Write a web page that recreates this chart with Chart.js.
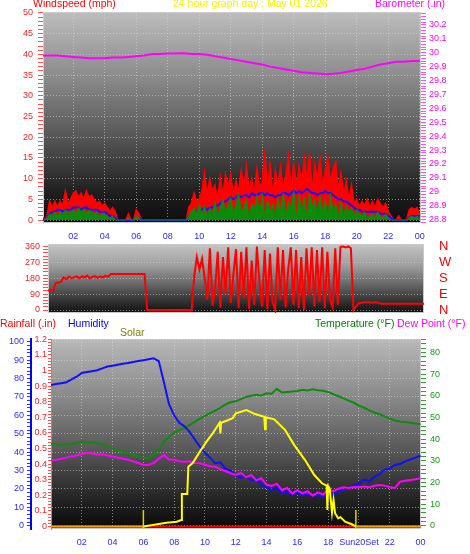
<!DOCTYPE html>
<html>
<head>
<meta charset="utf-8">
<script src="https://cdn.jsdelivr.net/npm/chart.js@4.4.1/dist/chart.umd.min.js"></script>
<style>
  body { margin: 0; width: 470px; height: 554px; background: #fff; position: relative; overflow: hidden;
         font-family: Arial, "Liberation Sans", sans-serif; }
  canvas { position: absolute; left: 0; }
  .t { position: absolute; font-size: 10.5px; line-height: 13px; white-space: nowrap; }
</style>
</head>
<body>
<canvas id="wind" width="470" height="250" style="top:0"></canvas>
<canvas id="dir" width="470" height="82" style="top:238px"></canvas>
<canvas id="climate" width="470" height="234" style="top:320px"></canvas>

<div class="t" style="left:33px;top:-3px;color:#ff0000">Windspeed (mph)</div>
<div class="t" style="left:173px;top:-3px;color:#f4f400">24 hour graph day : May 01 2026</div>
<div class="t" style="left:375px;top:-3px;color:#ff00ff">Barometer (.in)</div>
<div class="t" style="left:0;top:317px;color:#ff0000">Rainfall (.in)</div>
<div class="t" style="left:68px;top:317px;color:#0000ff">Humidity</div>
<div class="t" style="left:120px;top:326px;color:#808000">Solar</div>
<div class="t" style="left:315px;top:317px;color:#008000">Temperature (°F)</div>
<div class="t" style="left:397px;top:317px;color:#ff00ff">Dew Point (°F)</div>

<script>
// ---- data: wind panel, one value every 10 minutes (00:00 .. 24:00) ----
const windGust = [
  1, 0, 1, 4.5, 3, 4.5,        3, 4.5, 3.5, 7, 4, 5,
  6.5, 7, 5.5, 6.5, 5, 7,      5.5, 6, 5, 4, 4.5, 3.5,
  4, 3, 2, 3, 2, 0,            0, 0, 0, 1.5, 0, 0,
  2.5, 1.5, 0, 0, 0, 0,        0, 0, 0, 0, 0, 0,
  0, 0, 0, 0, 0, 0,            0, 0, 3, 4, 6.5, 4.5,
  5, 7, 11.5, 6, 10, 7,        8.5, 5, 10.5, 6, 11, 8,
  11, 6, 9.5, 7, 12, 8,        13, 7, 10, 6.5, 12.5, 8,
  9, 17, 7, 14, 6, 12,         8, 13, 7, 11, 15.5, 7,
  14, 8, 13, 9, 15, 10,        16, 7, 13.5, 10, 15, 8,
  12, 15, 9, 12.5, 14, 7,      11.5, 6, 9.5, 5, 8.5, 4,
  5, 3, 4.5, 3.5, 5, 3,        4.5, 3, 5, 4, 3, 4,
  2, 1, 0, 0, 1, 0,            0, 0, 2.5, 3, 2.5, 3,
  1
];
const windSpeed = [
  0, 0, 0.5, 1.5, 1, 2,        1, 2, 1.5, 2.5, 1.5, 2,
  2.5, 1.5, 3, 2, 2.5, 1.5,    2.5, 2, 1.5, 2, 1, 1.5,
  1.5, 1, 0.5, 1, 0, 0,        0, 0, 0, 0.5, 0, 0,
  1, 0.5, 0, 0, 0, 0,          0, 0, 0, 0, 0, 0,
  0, 0, 0, 0, 0, 0,            0, 0, 1, 2, 3, 1.5,
  4, 1, 3.5, 0.5, 3, 1.5,      4.5, 1, 3, 5, 2, 3.5,
  5.5, 1, 4, 6.5, 2, 3,        5, 0.5, 4, 2.5, 6, 1,
  6.5, 0.5, 5, 2, 4, 0.5,      5.5, 2, 6.5, 1, 4.5, 3,
  7, 0.5, 6, 2, 5.5, 1,        6.5, 3, 5, 1.5, 6, 2,
  5, 0.5, 6.5, 2, 4, 1,        4.5, 1, 3.5, 2, 3, 1,
  2.5, 1.5, 1, 2, 0.5, 1,      1.5, 0.5, 2, 1, 0.5, 1.5,
  0.5, 0, 0, 0, 0, 0,          0, 0, 0.5, 1, 0.5, 1,
  0
];
const windAverage = [
  0, 0, 0.5, 1.5, 2, 2,        2.5, 2.5, 2, 2.5, 2.5, 2.5,
  3, 3, 3, 2.5, 3, 3,          2.5, 2.5, 2.5, 2.5, 2, 2,
  2, 1.5, 1, 1, 0.5, 0,        0, 0, 0, 0, 0, 0,
  0.5, 0.5, 0, 0, 0, 0,        0, 0, 0, 0, 0, 0,
  0, 0, 0, 0, 0, 0,            0, 0, 1, 1.5, 2, 2,
  2.5, 2.5, 3, 2.5, 3, 3,      3.5, 3.5, 4, 4.5, 4.5, 5,
  5.5, 5, 5.5, 6, 5.5, 6,      6, 5.5, 6.5, 6, 6, 6.5,
  6.5, 6, 6.5, 6, 6, 5.5,      6, 6, 6.5, 6.5, 6, 6.5,
  7, 6.5, 7, 6.5, 7, 7.5,      7, 6.5, 6.5, 6, 6.5, 6.5,
  7, 6.5, 6.5, 6, 5.5, 5,      5, 4.5, 4.5, 4, 3.5, 3,
  2.5, 2.5, 2, 2, 2, 2,        2, 2, 2, 1.5, 1.5, 1.5,
  1, 0.5, 0, 0, 0, 0,          0, 0, 0.5, 1, 1, 1,
  1
];
// barometer, every 30 minutes
const barometer = [
  29.98, 29.98, 29.98, 29.975, 29.97, 29.965, 29.96, 29.96, 29.96, 29.965,
  29.965, 29.97, 29.975, 29.98, 29.99, 29.99, 29.995, 29.995, 29.997, 29.99,
  29.99, 29.985, 29.975, 29.965, 29.955, 29.945, 29.935, 29.925, 29.915, 29.9,
  29.89, 29.88, 29.87, 29.86, 29.855, 29.85, 29.845, 29.848, 29.855, 29.865,
  29.875, 29.885, 29.9, 29.915, 29.925, 29.935, 29.935, 29.94, 29.94
];
// wind direction, every 10 minutes
const windDirection = [
  110, 110, 110, 155, 155, 160,   185, 175, 190, 180, 185, 190,
  180, 190, 185, 195, 180, 188,   192, 182, 190, 185, 195, 188,
  204, 204, 204, 204, 204, 204,   204, 204, 204, 204, 204, 204,
  204, 204, 0, 0, 0, 0,           0, 0, 0, 0, 0, 0,
  0, 0, 0, 0, 0, 0,               0, 0, 190, 300, 230, 290,
  180, 60, 350, 25, 120, 330,     15, 300, 90, 355, 40, 200,
  345, 10, 330, 70, 355, 5,       280, 30, 360, 150, 20, 340,
  5, 320, 45, 0, 355, 60,         340, 15, 230, 355, 30, 340,
  10, 300, 0, 350, 80, 355,       20, 340, 45, 355, 10, 330,
  60, 15, 350, 30, 358, 360,      355, 360, 350, 0, 20, 40,
  40, 45, 42, 45, 40, 45,         42, 38, 35, 35, 35, 35,
  35, 35, 35, 35, 35, 35,         35, 35, 35, 35, 35, 35,
  35
];

// ---- data: climate panel, one value every 20 minutes ----
const humidity = [
  76.5, 77, 77.5,  78, 79.5, 81,  83, 83.5, 84,  84.5, 85.5, 86.5,
  87, 87.5, 88,  88.5, 89, 89.5,  90, 90.5, 91,  89.5, 78, 66,
  60, 56, 54,  51, 47, 43,  39.5, 37, 34,  34.5, 31, 30,
  27.5, 26, 27,  24.5, 25.5, 22,  21, 19.5, 20.5,  18, 18.5, 17,
  18, 16.5, 17.5,  16, 17, 15.5,  16, 17, 18.5,  19.5, 20.5, 21.5,
  23, 25, 24,  26.5, 28, 30.5,  31, 33, 33.5,  35, 36, 37,
  38
];
const temperature = [
  37.8, 37.5, 37.2,  37.5, 37.8, 38.2,  38.9, 38.5, 38.6,  38.2, 37.8, 36.8,
  35.8, 35, 34.2,  33.5, 32.8, 32,  31.4, 31.2, 33,  35.5, 38.8, 41,
  43, 44.2, 45.2,  46.5, 48, 49.5,  50.8, 52, 53.2,  54.5, 56, 57,
  57.5, 58.5, 59.5,  60, 60.5, 60.2,  61.2, 61, 63.2,  61.5, 61.8, 62,
  62.2, 62.8, 62.5,  63, 62.6, 62.3,  61.8, 60.8, 59.8,  58.8, 57.8, 56.8,
  55.5, 54.5, 53.3,  52.3, 51.5, 50.5,  49.5, 48.6, 48.2,  47.9, 47.6, 47.2,
  46.9
];
const dewPoint = [
  30.4, 30.5, 31,  31.5, 32, 32.5,  33.2, 33.8, 33.5,  33, 33, 32.5,
  32, 31.5, 31,  30.5, 29.8, 29,  28.1, 28.2, 29,  31, 32.7, 30.6,
  30.5, 29.8, 29.6,  29.8, 29, 28.9,  28.2, 27.5, 27.3,  26.2, 25.2, 24.3,
  23.5, 24.5, 22.5,  23.5, 21, 22,  19, 18.5, 19.5,  16.5, 17.5, 15,
  16.5, 15, 16,  14, 15.5, 14.5,  16.6, 16, 17.2,  17.8, 17.5, 18,
  17.8, 18.2, 17.9,  18.5, 18.9, 18.6,  18, 17.4, 20.4,  20.8, 21.2, 21.5,
  22
];
// rainfall, hourly
const rainfall = [0, 0, 0, 0, 0, 0, 0, 0, 0, 0, 0, 0, 0, 0, 0, 0, 0, 0, 0, 0, 0, 0, 0, 0, 0];
// solar radiation (W/m2), read at irregular times (hours)
const solarTimes = [0, 6.0, 6.5, 7.0, 7.5, 8.16, 8.45, 8.5, 8.85, 8.92, 9.2, 9.67, 10.1, 10.5, 10.95, 11.0, 11.05,
  11.4, 11.8, 12.0, 12.7, 13.25, 13.85, 13.9, 13.95, 14.5, 15.2, 15.8, 16.5, 17.1, 17.6, 17.9, 17.95, 18.0,
  18.1, 18.25, 18.35, 18.45, 18.65, 18.8, 19.1, 19.5, 19.8, 24];
const solarValues = [0, 0, 8, 16, 24, 31, 42, 208, 208, 383, 407, 480, 544, 597, 665, 597, 665,
  678, 694, 725, 747, 721, 704, 623, 700, 687, 619, 522, 426, 330, 277, 262, 106, 260,
  245, 90, 170, 85, 53, 60, 31, 16, 0, 0];
const sunrise = 6.0;
const sunset = 19.8;

// ---- axis ticks ----
const timeTicks = [2, 4, 6, 8, 10, 12, 14, 16, 18, 20, 22, 24];
const timeLabels = ['02', '04', '06', '08', '10', '12', '14', '16', '18', '20', '22', '00'];
const climateTimeLabels = ['02', '04', '06', '08', '10', '12', '14', '16', '18', 'Sun20Set', '22', '00'];
const windLabels = [0, 5, 10, 15, 20, 25, 30, 35, 40, 45, 50];
const baroLabels = [28.8, 28.9, 29, 29.1, 29.2, 29.3, 29.4, 29.5, 29.6, 29.7, 29.8, 29.9, 30, 30.1, 30.2];
const dirLabels = [0, 90, 180, 270, 360];
const compassLabels = ['N', 'E', 'S', 'W', 'N'];
const humidityLabels = [0, 10, 20, 30, 40, 50, 60, 70, 80, 90, 100];
const rainLabels = [0, 0.1, 0.2, 0.3, 0.4, 0.5, 0.6, 0.7, 0.8, 0.9, 1, 1.1, 1.2];
const tempLabels = [0, 10, 20, 30, 40, 50, 60, 70, 80];

function steps(from, to, step) {
  const n = Math.round((to - from) / step);
  return Array.from({ length: n + 1 }, (_, i) => +(from + i * step).toFixed(4));
}
const has = (list, v) => list.some(x => Math.abs(x - v) < 1e-6);
const toPoints = (values, stepHours) => values.map((v, i) => ({ x: i * stepHours, y: v }));

const axisFont = { family: 'Arial, "Liberation Sans", sans-serif', size: 9 };
const gridColor = 'rgba(220, 220, 220, 0.55)';
const clear = 'rgba(0, 0, 0, 0)';

// fixed axis sizes, and no extra room for labels that overhang the plot
const fixedWidth = w => s => { s.width = w; s.paddingTop = 0; s.paddingBottom = 0; };
const fixedHeight = h => s => { s.height = h; s.paddingLeft = 0; s.paddingRight = 0; };
const setTicks = values => s => { s.ticks = values.map(v => ({ value: v })); };

// gradient plot background
const plotBackground = {
  id: 'plotBackground',
  beforeDraw(chart, args, opts) {
    const { ctx, chartArea: a } = chart;
    const g = ctx.createLinearGradient(0, a.top, 0, a.bottom);
    opts.stops.forEach(([p, c]) => g.addColorStop(p, c));
    ctx.save();
    ctx.fillStyle = g;
    ctx.fillRect(a.left, a.top, a.right - a.left, a.bottom - a.top);
    ctx.strokeStyle = '#c8c8c8';
    ctx.lineWidth = 1;
    ctx.strokeRect(a.left + 0.5, a.top + 0.5, a.right - a.left - 1, a.bottom - a.top - 1);
    ctx.restore();
  }
};

const baseOptions = {
  responsive: false,
  animation: false,
  events: [],
  elements: { point: { radius: 0 }, line: { tension: 0 } },
};

function timeAxis(min, max, labels, height) {
  return {
    type: 'linear', min, max,
    afterBuildTicks: setTicks(timeTicks),
    afterFit: fixedHeight(height),
    ticks: {
      color: '#2a2aff', font: axisFont, padding: 8, autoSkip: false, maxRotation: 0,
      callback: v => labels[timeTicks.indexOf(v)] ?? ''
    },
    grid: { color: gridColor, drawTicks: false },
    border: { display: false, dash: [1, 2] }
  };
}

// ---- wind + barometer ----
new Chart(document.getElementById('wind'), {
  type: 'line',
  data: {
    datasets: [
      { label: 'Wind speed', data: toPoints(windSpeed, 1 / 6), borderColor: '#0c8a0c',
        backgroundColor: '#0c8a0c', borderWidth: 1, fill: 'origin', yAxisID: 'y' },
      { label: 'Average wind', data: toPoints(windAverage, 1 / 6), borderColor: '#1414ff',
        borderWidth: 2, yAxisID: 'y' },
      { label: 'Gust', data: toPoints(windGust, 1 / 6), borderColor: '#ff0000',
        backgroundColor: '#ff0000', borderWidth: 1.5, fill: 'origin', yAxisID: 'y' },
      { label: 'Barometer', data: toPoints(barometer, 0.5), borderColor: '#ff00ff',
        borderWidth: 2, yAxisID: 'baro' }
    ]
  },
  options: {
    ...baseOptions,
    layout: { padding: { top: 12 } },
    plugins: {
      legend: { display: false }, tooltip: { enabled: false },
      plotBackground: { stops: [[0, '#bdbdbd'], [0.3, '#8c8c8c'], [0.6, '#555555'], [0.85, '#202020'], [1, '#0c0c0c']] }
    },
    scales: {
      x: timeAxis(0.08, 24.08, timeLabels, 27),
      y: {
        position: 'left', min: -0.72, max: 50.24,
        afterBuildTicks: setTicks(steps(0, 50, 1)),
        afterFit: fixedWidth(43),
        ticks: { color: '#ff2020', font: axisFont, padding: 5, autoSkip: false,
                 callback: v => has(windLabels, v) ? String(v) : '' },
        grid: { color: c => (c.tick && has(windLabels, c.tick.value)) ? gridColor : clear,
                tickColor: '#ff5050', tickLength: 5 },
        border: { color: '#d8c8c8', dash: [1, 2] }
      },
      baro: {
        position: 'right', min: 28.775, max: 30.293,
        afterBuildTicks: setTicks(steps(28.78, 30.28, 0.02)),
        afterFit: fixedWidth(49),
        ticks: { color: '#ff00ff', font: axisFont, padding: 3, autoSkip: false,
                 callback: v => has(baroLabels, v) ? String(Math.round(v * 10) / 10) : '' },
        grid: { drawOnChartArea: false, tickColor: '#ff50ff', tickLength: 5 },
        border: { display: false }
      }
    }
  },
  plugins: [plotBackground]
});

// ---- wind direction ----
new Chart(document.getElementById('dir'), {
  type: 'line',
  data: {
    datasets: [
      { label: 'Direction', data: toPoints(windDirection, 1 / 6), borderColor: '#ff0000',
        borderWidth: 2, yAxisID: 'y' }
    ]
  },
  options: {
    ...baseOptions,
    layout: { padding: { top: 6, bottom: 7 } },
    plugins: {
      legend: { display: false }, tooltip: { enabled: false },
      plotBackground: { stops: [[0, '#c4c4c4'], [0.3, '#a0a0a0'], [0.55, '#6e6e6e'], [0.8, '#383838'], [1, '#101010']] }
    },
    scales: {
      x: { type: 'linear', min: 0, max: 24, display: false },
      y: {
        position: 'left', min: -17, max: 374,
        afterBuildTicks: setTicks(steps(0, 360, 18)),
        afterFit: fixedWidth(48),
        ticks: { color: '#ff2020', font: axisFont, padding: 3, autoSkip: false,
                 callback: v => has(dirLabels, v) ? String(v) : '' },
        grid: { color: c => (c.tick && has(dirLabels, c.tick.value)) ? gridColor : clear,
                tickColor: '#ff5050', tickLength: 5 },
        border: { display: false, dash: [1, 2] }
      },
      compass: {
        position: 'right', min: -17, max: 374,
        afterBuildTicks: setTicks(dirLabels),
        afterFit: fixedWidth(46),
        ticks: { color: '#ff0000', font: { family: axisFont.family, size: 13 }, padding: 15, autoSkip: false,
                 callback: v => compassLabels[dirLabels.indexOf(v)] ?? '' },
        grid: { drawOnChartArea: false, drawTicks: false },
        border: { display: false }
      }
    }
  },
  plugins: [plotBackground]
});

// ---- rain, humidity, solar, temperature, dew point ----
const sunMarks = [
  { x: sunrise, y: -16 }, { x: sunrise, y: 106 }, { x: 12, y: null },
  { x: sunset, y: -16 }, { x: sunset, y: 106 }
];

new Chart(document.getElementById('climate'), {
  type: 'line',
  data: {
    datasets: [
      { label: 'Solar', data: solarTimes.map((t, i) => ({ x: t, y: solarValues[i] })),
        borderColor: '#ffff00', borderWidth: 2, yAxisID: 'solar',
        segment: { borderColor: c => (c.p0.parsed.y === 0 && c.p1.parsed.y === 0) ? '#ff9a00' : '#ffff00' } },
      { label: 'Sun', data: sunMarks, borderColor: '#d8d800', borderWidth: 1.5, yAxisID: 'solar', spanGaps: false },
      { label: 'Dew Point', data: toPoints(dewPoint, 1 / 3), borderColor: '#ff00ff', borderWidth: 2, yAxisID: 'temp' },
      { label: 'Humidity', data: toPoints(humidity, 1 / 3), borderColor: '#1010ff', borderWidth: 2, yAxisID: 'hum' },
      { label: 'Temperature', data: toPoints(temperature, 1 / 3), borderColor: '#108a10', borderWidth: 2, yAxisID: 'temp' },
      { label: 'Rainfall', data: toPoints(rainfall, 1), borderColor: '#ff0000', borderWidth: 2, yAxisID: 'rain' }
    ]
  },
  options: {
    ...baseOptions,
    layout: { padding: { top: 19 } },
    plugins: {
      legend: { display: false }, tooltip: { enabled: false },
      plotBackground: { stops: [[0, '#b8b8b8'], [0.3, '#8a8a8a'], [0.6, '#555555'], [0.85, '#222222'], [1, '#0a0a0a']] }
    },
    scales: {
      x: timeAxis(0, 24.03, climateTimeLabels, 25),
      hum: {
        position: 'left', weight: 1, min: -1.8, max: 101.5,
        afterBuildTicks: setTicks(steps(0, 100, 2)),
        afterFit: fixedWidth(31),
        ticks: { color: '#2a2aff', font: axisFont, padding: 3, autoSkip: false,
                 callback: v => has(humidityLabels, v) ? String(v) : '' },
        grid: { color: c => (c.tick && has(humidityLabels, c.tick.value)) ? gridColor : clear,
                tickColor: '#3030ff', tickLength: 4 },
        border: { color: '#0000ff', width: 2, dash: [1, 2] }
      },
      rain: {
        position: 'left', weight: 0, min: -0.016, max: 1.202,
        afterBuildTicks: setTicks(steps(0, 1.2, 0.02)),
        afterFit: fixedWidth(20),
        ticks: { color: '#ff2020', font: axisFont, padding: 1, autoSkip: false,
                 callback: v => has(rainLabels, v) ? String(v) : '' },
        grid: { drawOnChartArea: false, tickColor: '#ff5050', tickLength: 3 },
        border: { color: '#ff6060' }
      },
      temp: {
        position: 'right', min: -1.4, max: 86.2,
        afterBuildTicks: setTicks(steps(0, 86, 2)),
        afterFit: fixedWidth(49),
        ticks: { color: '#10a010', font: axisFont, padding: 4, autoSkip: false,
                 callback: v => has(tempLabels, v) ? String(v) : '' },
        grid: { drawOnChartArea: false, tickColor: '#30a030', tickLength: 5 },
        border: { display: false }
      },
      solar: { position: 'right', min: -16, max: 1202, display: false }
    }
  },
  plugins: [plotBackground]
});
</script>
</body>
</html>
